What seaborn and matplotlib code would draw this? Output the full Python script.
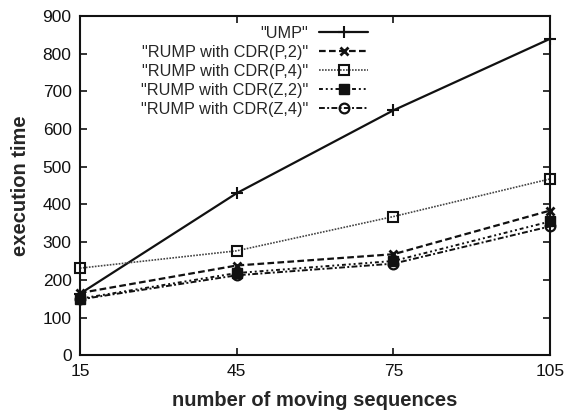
import matplotlib
matplotlib.use("Agg")
import matplotlib.pyplot as plt
import seaborn as sns
import pandas as pd

# Number of moving sequences (x) and execution times for each method
sequences = [15, 45, 75, 105]
ump = [163, 430, 650, 840]
rump_p2 = [165, 238, 268, 384]
rump_p4 = [231, 277, 368, 468]
rump_z2 = [150, 218, 250, 355]
rump_z4 = [148, 212, 243, 342]

series_names = [
    '"UMP"',
    '"RUMP with CDR(P,2)"',
    '"RUMP with CDR(P,4)"',
    '"RUMP with CDR(Z,2)"',
    '"RUMP with CDR(Z,4)"',
]
series_values = [ump, rump_p2, rump_p4, rump_z2, rump_z4]

frames = []
for name, vals in zip(series_names, series_values):
    frames.append(pd.DataFrame({"seq": sequences, "time": vals, "method": name}))
df = pd.concat(frames, ignore_index=True)

sns.set_style("ticks")
plt.rcParams["font.family"] = ["Liberation Sans", "DejaVu Sans"]

fig = plt.figure(figsize=(5.75, 4.13), dpi=100)
ax = fig.add_axes([0.139, 0.140, 0.818, 0.821])

styles = {
    '"UMP"': dict(marker="+", dashes=None, color="#111111", lw=1.6, ms=8, mew=1.5, mfc="none"),
    '"RUMP with CDR(P,2)"': dict(marker="x", dashes=(3, 1.5), color="#111111", lw=1.6, ms=6, mew=2.0, mfc="none"),
    '"RUMP with CDR(P,4)"': dict(marker="s", dashes=(1, 0.8), color="#444444", lw=1.2, ms=7, mew=1.5, mfc="none"),
    '"RUMP with CDR(Z,2)"': dict(marker="s", dashes=(2, 1.5, 1, 1.5, 1, 1.5), color="#111111", lw=1.4, ms=7, mew=1.0, mfc="#111111"),
    '"RUMP with CDR(Z,4)"': dict(marker="o", dashes=(3, 1.2, 1, 1.2), color="#111111", lw=1.4, ms=7, mew=1.6, mfc="none"),
}

for name in series_names:
    st = styles[name]
    sub = df[df["method"] == name]
    kw = dict(x="seq", y="time", data=sub, ax=ax, label=name, color=st["color"],
              marker=st["marker"], markersize=st["ms"], markeredgewidth=st["mew"],
              markerfacecolor=st["mfc"], markeredgecolor="#111111", linewidth=st["lw"])
    line_ax = sns.lineplot(**kw)
    line = line_ax.get_lines()[-1]
    line.set_clip_on(False)
    if st["dashes"] is not None:
        line.set_dashes(st["dashes"])

ax.set_xlim(15, 105)
ax.set_ylim(0, 900)
ax.set_xticks(sequences)
ax.set_yticks(range(0, 901, 100))
ax.tick_params(direction="in", top=True, right=True, length=5, width=1.2,
               labelsize=12.5, pad=6, colors="#111111")
for sp in ax.spines.values():
    sp.set_visible(True)
    sp.set_linewidth(1.5)
    sp.set_color("#111111")

ax.set_xlabel("number of moving sequences", fontsize=14.5, fontweight="bold", labelpad=9)
ax.set_ylabel("execution time", fontsize=14.5, fontweight="bold", labelpad=9)

leg = ax.legend(loc="upper right", bbox_to_anchor=(0.63, 0.995), frameon=False,
                markerfirst=False, fontsize=11.7, handlelength=3.0, labelspacing=0.25,
                borderaxespad=0.2, borderpad=0.3, handletextpad=0.7, numpoints=1)

fig.savefig("out.png", dpi=100)
